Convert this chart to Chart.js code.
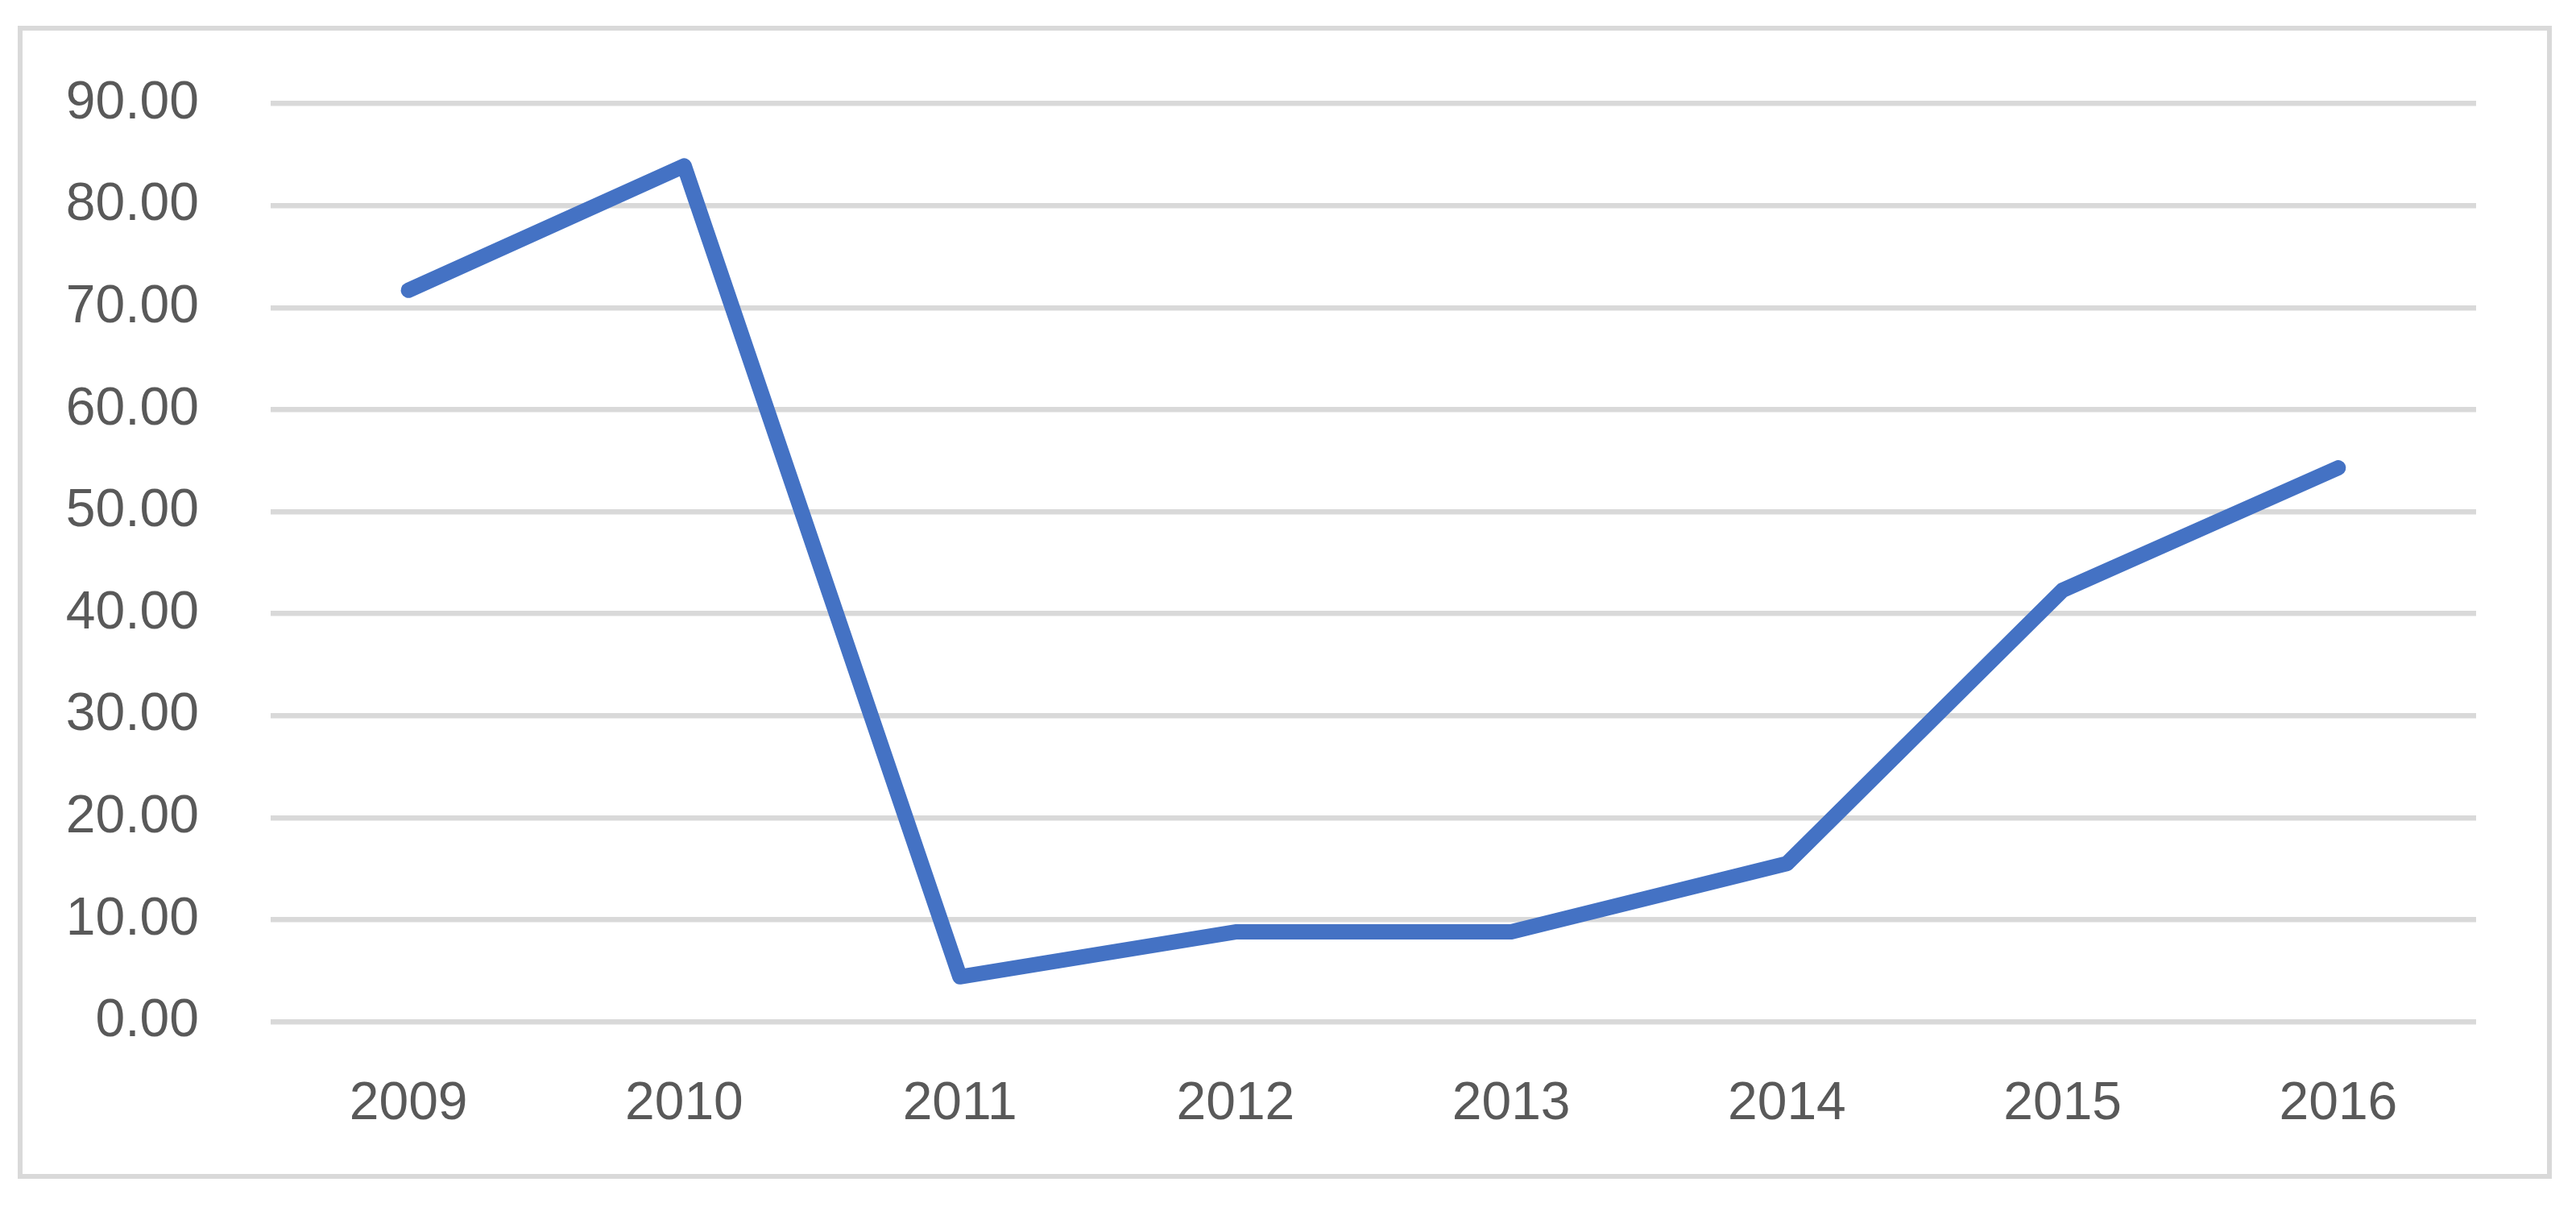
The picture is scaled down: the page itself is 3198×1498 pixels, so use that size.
<!DOCTYPE html>
<html>
<head>
<meta charset="utf-8">
<script src="https://cdn.jsdelivr.net/npm/chart.js@4/dist/chart.umd.min.js"></script>
<style>
    html, body { margin: 0; padding: 0; background: #fff; }
    .frame {
        position: absolute;
        left: 22px; top: 32px;
        width: 3146px; height: 1431px;
        box-sizing: border-box;
        border: 6px solid #d9d9d9;
    }
    #lineChart { position: absolute; left: 0; top: 0; }
</style>
</head>
<body>
<div class="frame"></div>
<canvas id="lineChart" width="3198" height="1498"></canvas>
<script>
// Data
const years = ['2009', '2010', '2011', '2012', '2013', '2014', '2015', '2016'];
const values = [71.7, 83.9, 4.4, 8.8, 8.8, 15.5, 42.3, 54.3];

// Y axis ticks
const yMin = 0;
const yMax = 90;
const yStep = 10;

const labelFont = {
    family: "'Liberation Sans', Arial, sans-serif",
    size: 66,
};

const data = {
    labels: years,
    datasets: [{
        data: values,
        borderColor: '#4472C4',
        backgroundColor: '#4472C4',
        borderWidth: 19,
        borderCapStyle: 'round',
        borderJoinStyle: 'round',
        pointRadius: 0,
        tension: 0,
        fill: false,
    }]
};

const options = {
    responsive: false,
    animation: false,
    devicePixelRatio: 1,
    layout: {
        padding: { left: 0, top: 124, right: 124, bottom: 0 }
    },
    plugins: {
        legend: { display: false },
        tooltip: { enabled: false }
    },
    scales: {
        x: {
            offset: true,
            grid: { display: false, drawTicks: false },
            border: { display: false },
            ticks: {
                color: '#595959',
                font: labelFont,
                padding: 63,
                maxRotation: 0,
            },
            afterFit: scale => { scale.height = 230; }
        },
        y: {
            min: yMin,
            max: yMax,
            grid: {
                color: '#d9d9d9',
                lineWidth: 6.5,
                drawTicks: false,
            },
            border: { display: false },
            ticks: {
                stepSize: yStep,
                color: '#595959',
                font: labelFont,
                padding: 89,
                callback: v => v.toFixed(2)
            },
            afterFit: scale => { scale.width = 336; }
        }
    }
};

const lineChart = new Chart(
    document.getElementById('lineChart'),
    { type: 'line', data, options }
);
</script>
</body>
</html>
